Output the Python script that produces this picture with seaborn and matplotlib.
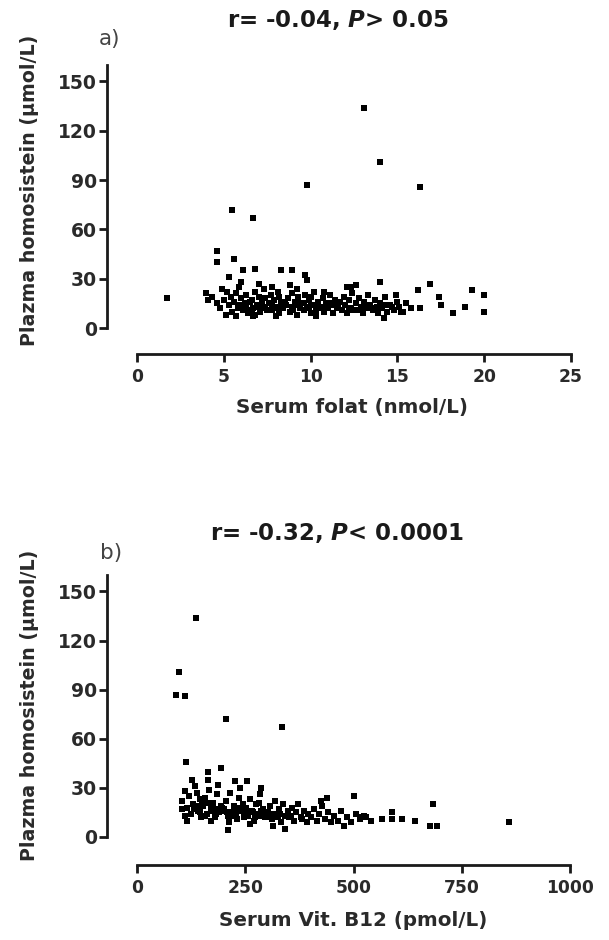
import matplotlib
matplotlib.use("Agg")
import matplotlib.pyplot as plt
import pandas as pd
import seaborn as sns

# panel a: serum folate (nmol/L) vs plasma homocysteine (umol/L)
folate_x = [
    13.1, 14.0, 9.8, 16.3, 5.5, 6.7, 4.6, 4.6, 5.6, 1.7, 6.1, 6.8, 8.3, 8.9,
    9.7, 5.3, 14.0, 16.9, 16.2, 19.3, 20.0, 17.4, 17.5, 16.3, 18.9, 18.2, 20.0,
    14.2, 6.7, 12.6, 12.3, 4.0, 4.1,
    4.3, 4.6, 4.8, 5.0, 5.2, 5.3, 5.5, 4.9, 5.4, 5.1,
    5.6, 5.7, 5.8, 5.9, 6.0, 6.1, 6.2, 6.3, 6.4, 6.0, 5.7, 6.3,
    6.6, 6.7, 6.8, 6.9, 7.0, 7.1, 7.2, 7.3, 7.4, 6.8, 7.0, 7.4, 6.6,
    7.6, 7.7, 7.8, 7.9, 8.0, 8.1, 8.2, 8.3, 8.4, 7.8, 8.2, 8.0,
    8.6, 8.7, 8.8, 8.9, 9.0, 9.1, 9.2, 9.3, 9.4, 8.8, 9.2, 9.0,
    9.6, 9.7, 9.8, 9.9, 10.0, 10.1, 10.2, 10.3, 10.4, 9.8, 10.0, 10.3,
    10.6, 10.7, 10.8, 10.9, 11.0, 11.1, 11.2, 11.3, 11.4, 10.8,
    11.6, 11.7, 11.8, 11.9, 12.0, 12.1, 12.2, 12.3, 12.4, 12.1,
    12.6, 12.7, 12.8, 12.9, 13.0, 13.1, 13.2, 13.3, 13.4,
    13.6, 13.7, 13.8, 13.9, 14.0, 14.1, 14.3, 14.4,
    14.6, 14.8, 15.0, 15.1, 15.3, 15.5, 15.8, 14.9,
    5.9, 6.2, 6.5, 6.9, 7.2, 7.5, 7.8, 8.1, 8.5, 8.9, 9.3, 9.6, 10.0, 10.4,
    10.8, 11.2, 11.5, 12.0, 12.5, 13.0, 13.5, 14.2, 6.4, 7.1, 7.7, 8.4, 9.1,
    9.9, 10.6, 11.4, 12.2, 13.8, 5.8, 15.2, 14.7, 11.0, 8.6, 7.3,
]
folate_y = [
    134, 101, 87, 86, 72, 67, 47, 40, 42, 18, 35, 36, 35, 35,
    32, 31, 28, 27, 23, 23, 20, 19, 14, 12, 13, 9, 10,
    6, 7, 26, 25, 21, 17,
    19, 15, 12, 17, 22, 14, 10, 24, 19, 8,
    16, 21, 13, 25, 18, 11, 15, 20, 9, 28, 7, 13,
    17, 12, 22, 14, 19, 10, 16, 24, 13, 8, 27, 18, 11,
    15, 20, 11, 17, 13, 22, 9, 16, 12, 25, 19, 7,
    14, 18, 10, 21, 13, 16, 8, 19, 12, 26, 24, 11,
    15, 20, 12, 17, 9, 14, 22, 11, 16, 29, 19, 7,
    13, 18, 10, 15, 12, 20, 14, 9, 17, 22,
    13, 16, 11, 19, 14, 9, 17, 12, 21, 25,
    15, 11, 18, 13, 9, 16, 12, 20, 14,
    11, 17, 13, 9, 15, 12, 19, 10,
    14, 11, 16, 13, 10, 15, 12, 20,
    14, 12, 16, 13, 15, 11, 14, 12, 16, 13, 15, 11, 14, 12,
    13, 15, 12, 14, 11, 13, 12, 14, 10, 13, 11, 12, 14,
    13, 12, 15, 11, 13, 12, 10, 13, 15, 14, 12,
]

# panel b: serum vitamin B12 (pmol/L) vs plasma homocysteine (umol/L)
b12_x = [
    136, 97, 90, 111, 205, 334, 113, 193, 165, 165, 126, 226, 253, 286, 500,
    684, 677, 692, 858, 642, 565, 590, 611, 588, 530, 515, 103, 116, 211,
    342, 315, 477, 438, 426,
    105, 110, 115, 120, 125, 130, 135, 140, 145, 148, 112, 138,
    152, 158, 162, 166, 170, 175, 180, 185, 190, 195, 172, 188,
    202, 206, 210, 215, 220, 225, 230, 235, 240, 245, 212, 238, 228, 248,
    252, 256, 260, 265, 270, 275, 280, 285, 290, 295, 262, 282,
    302, 308, 312, 318, 322, 328, 333, 338, 342, 348,
    352, 358, 362, 368, 372, 378, 385, 392, 396,
    402, 408, 415, 420, 428, 435, 442, 448,
    455, 465, 472, 485, 495, 505, 515, 525, 540,
    132, 145, 158, 170, 183, 196, 208, 221, 234, 247, 260, 273, 286, 299,
    312, 325, 150, 176, 199, 218, 243, 268, 291, 305, 330, 355, 380, 140,
    163, 186, 232, 257, 279, 296,
]
b12_y = [
    134, 101, 87, 86, 72, 67, 46, 42, 40, 35, 35, 34, 34, 30, 25,
    20, 7, 7, 9, 10, 11, 11, 11, 15, 12, 12, 17, 10, 4,
    5, 7, 7, 24, 22,
    22, 28, 18, 25, 14, 20, 31, 16, 23, 12, 13, 27,
    19, 24, 14, 29, 17, 21, 12, 26, 15, 19, 10, 32,
    17, 22, 13, 27, 15, 19, 11, 24, 16, 20, 9, 30, 14, 12,
    18, 13, 23, 16, 10, 20, 14, 26, 17, 12, 8, 21,
    15, 19, 11, 22, 14, 17, 9, 20, 13, 16,
    12, 18, 10, 15, 20, 12, 16, 9, 14,
    12, 17, 10, 14, 19, 11, 15, 9,
    13, 10, 16, 12, 9, 14, 11, 13, 10,
    17, 15, 13, 16, 14, 18, 15, 13, 17, 14, 15, 12, 16, 13,
    14, 12, 20, 18, 16, 14, 17, 15, 13, 12, 14, 13, 11, 19,
    21, 17, 18, 15, 13, 14,
]

Y_TICKS = [0, 30, 60, 90, 120, 150]
INK = "#1a1a1a"

sns.set_style("ticks")
plt.rcParams["font.family"] = ["DejaVu Sans"]
plt.rcParams["font.weight"] = "bold"
plt.rcParams["mathtext.fontset"] = "custom"
plt.rcParams["mathtext.rm"] = "DejaVu Sans:bold"
plt.rcParams["mathtext.it"] = "DejaVu Sans:bold:italic"
plt.rcParams["text.color"] = INK

W, H = 609, 940
fig = plt.figure(figsize=(W / 100, H / 100), dpi=100)


def px_axes(left, right, y0, ytop):
    return fig.add_axes([left / W, (H - y0) / H, (right - left) / W, (y0 - ytop) / H])


def style_axis(ax, xticks, xlim, x_out, y_out):
    ax.set_xlim(*xlim)
    ax.set_ylim(0, 160)
    ax.set_xticks(xticks)
    ax.set_yticks(Y_TICKS)
    ax.set_xticklabels([str(t) for t in xticks])
    sns.despine(ax=ax)
    ax.spines["left"].set_position(("outward", y_out))
    ax.spines["bottom"].set_position(("outward", x_out))
    for side in ("left", "bottom"):
        ax.spines[side].set_linewidth(2.0)
        ax.spines[side].set_color(INK)
    ax.tick_params(width=2.0, length=5.5, color=INK, labelcolor="#2a2a2a")
    ax.tick_params(axis="y", labelsize=13.5, pad=1.5)
    ax.tick_params(axis="x", labelsize=12.3, pad=4.5)
    for lab in ax.get_xticklabels() + ax.get_yticklabels():
        lab.set_fontweight("bold")
    ax.set_xlabel("")
    ax.set_ylabel("")
    ax.set_facecolor("none")


df_a = pd.DataFrame({"folate": folate_x, "hcy": folate_y})
df_b = pd.DataFrame({"b12": b12_x, "hcy": b12_y})

ax_a = px_axes(137, 571, 328, 65)
sns.scatterplot(data=df_a, x="folate", y="hcy", ax=ax_a, marker="s", s=14,
                color="black", linewidth=0, clip_on=False)
style_axis(ax_a, [0, 5, 10, 15, 20, 25], (0, 25), 19, 21.6)

ax_b = px_axes(137, 570, 837, 575)
sns.scatterplot(data=df_b, x="b12", y="hcy", ax=ax_b, marker="s", s=14,
                color="black", linewidth=0, clip_on=False)
style_axis(ax_b, [0, 250, 500, 750, 1000], (0, 1000), 20, 21.6)

# titles, panel letters and axis labels placed in pixel coordinates
def ftext(x, y, s, **kw):
    fig.text(x / W, 1 - y / H, s, ha="center", va="center", **kw)


ftext(338, 20, "r= -0.04, $P$> 0.05", fontsize=16.5, fontweight="bold")
ftext(337, 533, "r= -0.32, $P$< 0.0001", fontsize=16.5, fontweight="bold")
ftext(110, 39, "a)", fontsize=15.5, fontweight="normal", color="#444444")
ftext(111, 553, "b)", fontsize=15.5, fontweight="normal", color="#444444")
ftext(352, 408, "Serum folat (nmol/L)", fontsize=14.3, fontweight="bold", color="#2a2a2a")
ftext(353, 920, "Serum Vit. B12 (pmol/L)", fontsize=14.3, fontweight="bold", color="#2a2a2a")
ftext(30, 190, "Plazma homosistein (μmol/L)", fontsize=13.7, fontweight="bold",
      rotation=90, color="#2a2a2a")
ftext(30, 705, "Plazma homosistein (μmol/L)", fontsize=13.7, fontweight="bold",
      rotation=90, color="#2a2a2a")

fig.savefig("out.png", dpi=100, facecolor="white")
